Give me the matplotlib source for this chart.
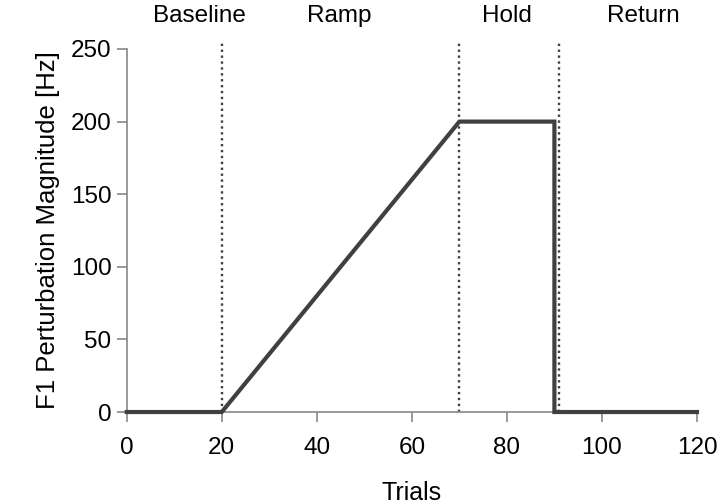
import matplotlib
matplotlib.use("Agg")
import matplotlib.pyplot as plt

plt.rcParams['font.family'] = ['Liberation Sans', 'DejaVu Sans']

trials = [0, 20, 70, 90, 90, 120]
magnitude = [0, 0, 200, 200, 0, 0]
phase_bounds = [20, 70, 91]
phase_names = ["Baseline", "Ramp", "Hold", "Return"]
phase_centers = [15.4, 44.8, 80, 108.8]
xticks = [0, 20, 40, 60, 80, 100, 120]
yticks = [0, 50, 100, 150, 200, 250]

fig = plt.figure(figsize=(7.2, 5.04), dpi=100)
ax = fig.add_axes([0.176, 0.1825, 0.792, 0.7203])

for b in phase_bounds:
    ax.plot([b, b], [0, 254], color='#404040', linestyle=(0, (1, 1.5)), linewidth=1.7, clip_on=False, zorder=2)

ax.plot(trials, magnitude, color='#404040', linewidth=3.0, solid_joinstyle='miter', zorder=3, clip_on=False)

for name, c in zip(phase_names, phase_centers):
    ax.text(c, 273.0, name, ha='center', va='center', fontsize=17.5, color='black')

ax.set_xlim(0, 120)
ax.set_ylim(0, 250)
ax.set_xticks(xticks)
ax.set_yticks(yticks)
ax.tick_params(axis='both', labelsize=17.5, colors='#888888', labelcolor='black', length=7, width=1.2, direction='out')
ax.tick_params(axis='x', pad=11)
ax.tick_params(axis='y', pad=4)
for s in ['top', 'right']:
    ax.spines[s].set_visible(False)
for s in ['left', 'bottom']:
    ax.spines[s].set_color('#888888')
    ax.spines[s].set_linewidth(1.2)

ax.set_xlabel('Trials', fontsize=18, labelpad=16)
ax.set_ylabel('F1 Perturbation Magnitude [Hz]', fontsize=18.5, labelpad=8)

fig.savefig('out.png', dpi=100)
